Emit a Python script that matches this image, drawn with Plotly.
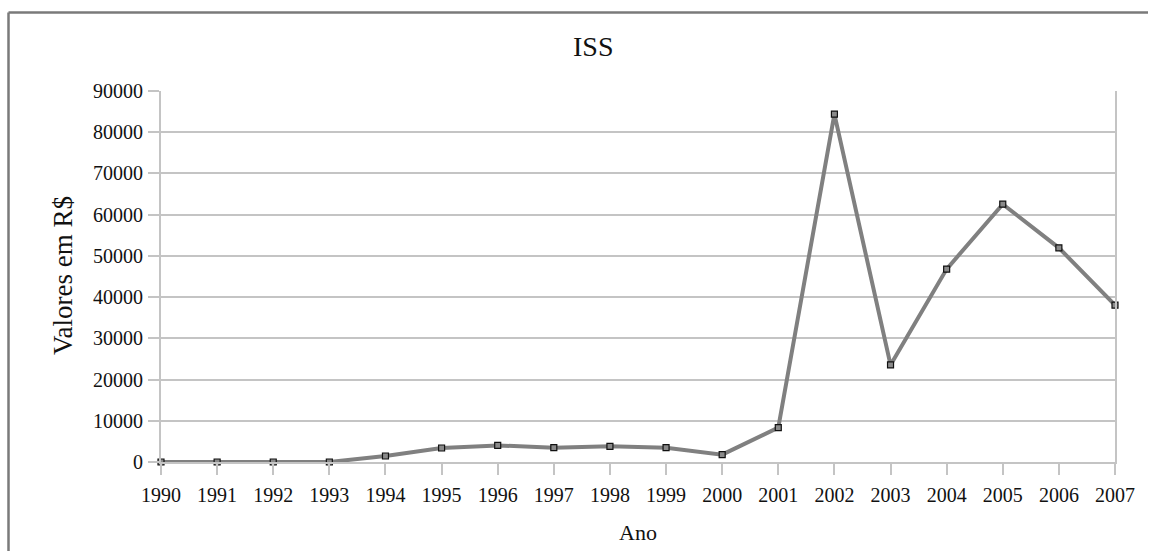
import plotly.graph_objects as go

# ISS revenue by year (R$)
anos = [1990, 1991, 1992, 1993, 1994, 1995, 1996, 1997, 1998,
        1999, 2000, 2001, 2002, 2003, 2004, 2005, 2006, 2007]
valores = [0, 0, 0, 0, 1450, 3400, 4030, 3480, 3800,
           3480, 1780, 8340, 84400, 23550, 46800, 62550, 51950, 38050]
y_ticks = [0, 10000, 20000, 30000, 40000, 50000, 60000, 70000, 80000, 90000]

W, H = 1149, 551
L, R, T, B = 161, 34, 91, 89
pw, ph = W - L - R, H - T - B

def px_x(p):
    return (p - L) / pw

def px_y(p):
    return (H - B - p) / ph

FONT = "Liberation Serif, Times New Roman, serif"
GRID = "#c4c4c4"
FRAME = "#7a7a7a"

fig = go.Figure()
fig.add_trace(go.Scatter(
    x=anos, y=valores, mode="lines+markers",
    line=dict(color="#808080", width=4),
    marker=dict(symbol="square", size=6, color="#8a8a8a",
                line=dict(color="#111111", width=1.2)),
    cliponaxis=False, showlegend=False,
))

fig.update_layout(
    width=W, height=H,
    margin=dict(l=L, r=R, t=T, b=B),
    paper_bgcolor="white", plot_bgcolor="white",
    font=dict(family=FONT, size=20, color="#111111"),
    xaxis=dict(
        range=[anos[0], anos[-1]], tickmode="array", tickvals=anos,
        ticktext=[str(a) for a in anos],
        showgrid=False, zeroline=False,
        showline=True, linecolor=GRID, linewidth=2,
        ticks="outside", ticklen=11, tickwidth=2, tickcolor=GRID,
        tickfont=dict(size=20), ticklabelstandoff=3,
    ),
    yaxis=dict(
        range=[0, 90000], tickmode="array", tickvals=y_ticks,
        ticktext=[str(v) for v in y_ticks],
        showgrid=True, gridcolor=GRID, gridwidth=1.5, zeroline=False,
        showline=True, linecolor=GRID, linewidth=2, mirror=True,
        ticks="outside", ticklen=11, tickwidth=2, tickcolor=GRID,
        tickfont=dict(size=20), ticklabelstandoff=1,
    ),
    shapes=[
        # outer chart frame: left edge
        dict(type="line", xref="paper", yref="paper",
             x0=px_x(8.5), x1=px_x(8.5), y0=px_y(551), y1=px_y(12.5),
             line=dict(color=FRAME, width=2.5)),
        # outer chart frame: top edge
        dict(type="line", xref="paper", yref="paper",
             x0=px_x(8.5), x1=px_x(1148), y0=px_y(12.5), y1=px_y(12.5),
             line=dict(color=FRAME, width=2.5)),
    ],
    annotations=[
        dict(text="ISS", xref="paper", yref="paper", x=px_x(593), y=px_y(47),
             xanchor="center", yanchor="middle", showarrow=False,
             font=dict(size=28)),
        dict(text="Ano", xref="paper", yref="paper", x=px_x(638), y=px_y(532),
             xanchor="center", yanchor="middle", showarrow=False,
             font=dict(size=22)),
        dict(text="Valores em R$", xref="paper", yref="paper", x=px_x(63),
             y=px_y(276), textangle=-90, xanchor="center", yanchor="middle",
             showarrow=False, font=dict(size=27)),
    ],
)

fig.write_html("out.html")
